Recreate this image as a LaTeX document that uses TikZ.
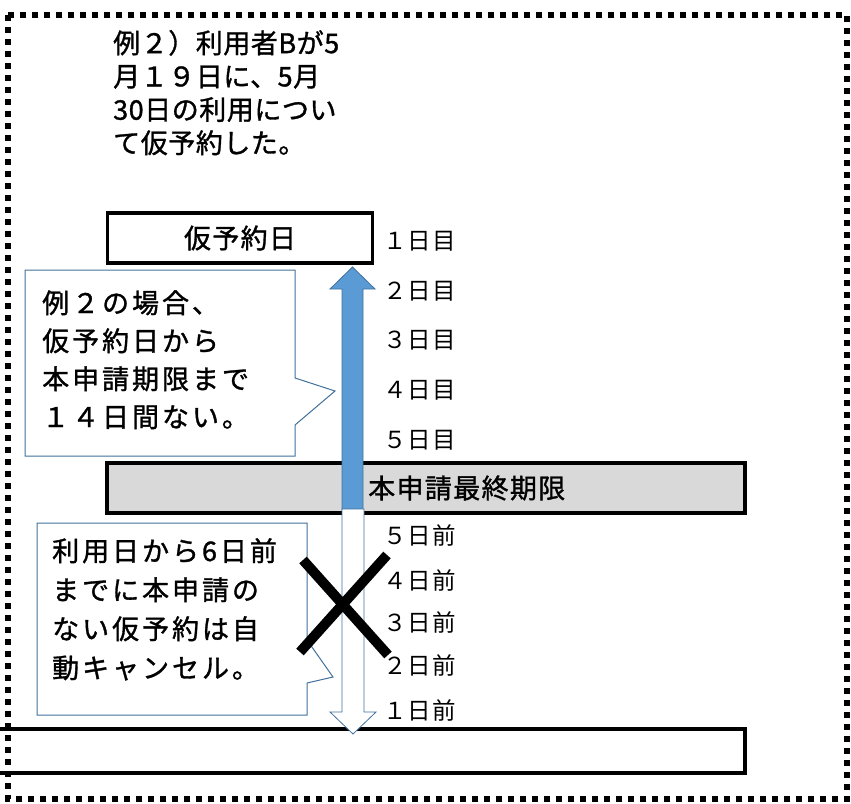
\documentclass[tikz,border=0pt]{standalone}
\usepackage{fontspec}
\setmainfont{Noto Sans CJK JP}
\newfontfamily\titlefont[LetterSpace=2,FakeBold=1.2]{Noto Sans CJK JP}
\newfontfamily\notefont[LetterSpace=11,FakeBold=1.2]{Noto Sans CJK JP}
\newfontfamily\boxfont[LetterSpace=5,FakeBold=1.2]{Noto Sans CJK JP}
\newfontfamily\dayfont[LetterSpace=5]{Noto Sans CJK JP}
\definecolor{arrowblue}{HTML}{5B9BD5}
\definecolor{edgeblue}{HTML}{41719C}
\definecolor{limitgray}{HTML}{D9D9D9}

\begin{document}
\begin{tikzpicture}[x=1pt,y=-1pt,
  bar/.style={draw=black,line width=3.5pt,inner sep=0pt},
  callout/.style={draw=edgeblue,line width=1pt,fill=white},
  note/.style={anchor=base west,align=left,inner sep=0pt},
  day/.style={anchor=west,inner sep=0pt,font=\dayfont\fontsize{23.5}{26}\selectfont}]
\useasboundingbox (0,0) rectangle (851,803);

\node[note,font=\titlefont\fontsize{27}{33.3}\selectfont] (title) at (113,153)
  {例２）利用者Bが5\\月１９日に、5月\\30日の利用につい\\て仮予約した。};

\node[bar,minimum width=265pt,minimum height=50pt,font=\boxfont\fontsize{27}{30}\selectfont] (karibox) at (240,238) {仮予約日};
\node[bar,fill=limitgray,minimum width=638pt,minimum height=50pt] (limitbox) at (426,488) {};
\node[anchor=west,inner sep=0pt,font=\boxfont\fontsize{27}{30}\selectfont] (limittext) at (368,488) {本申請最終期限};
\node[bar,minimum width=750pt,minimum height=44pt] (usebox) at (370,751) {};

\foreach \d/\n/\y in {１/1/241,２/2/291,３/3/340,４/4/390,５/5/440}
  \node[day] (after\n) at (383,\y) {{\d}日目};
\foreach \d/\n/\y in {５/5/535,４/4/580,３/3/622,２/2/665,１/1/710}
  \node[day] (before\n) at (383,\y) {{\d}日前};

\draw[draw=edgeblue,line width=0.8pt,fill=arrowblue]
  (342,510) -- (342,289) -- (330,289) -- (352.5,267) -- (375,289) -- (363,289) -- (363,510) -- cycle;
\draw[draw=edgeblue,line width=0.8pt,fill=white]
  (342,509) -- (342,712) -- (330,712) -- (353,734) -- (376,712) -- (364,712) -- (364,509) -- cycle;

\draw[callout] (25,270) -- (295,270) -- (295,378) -- (335,391) -- (295,425) -- (295,456) -- (25,456) -- cycle;
\node[note,font=\notefont\fontsize{27}{38}\selectfont] (note1) at (42,427)
  {例２の場合、\\仮予約日から\\本申請期限まで\\１４日間ない。};

\draw[callout] (37,523) -- (307,523) -- (307,640) -- (333,677) -- (307,683) -- (307,715) -- (37,715) -- cycle;
\node[note,font=\notefont\fontsize{27}{39}\selectfont] (note2) at (52,678)
  {利用日から6日前\\までに本申請の\\ない仮予約は自\\動キャンセル。};

\draw[line width=10pt] (300,652) -- (387,555);
\draw[line width=10pt] (303,560) -- (388,655);

\draw[line width=6pt,dash pattern=on 6pt off 6pt] (8,15) rectangle (847,799);
\end{tikzpicture}
\end{document}
